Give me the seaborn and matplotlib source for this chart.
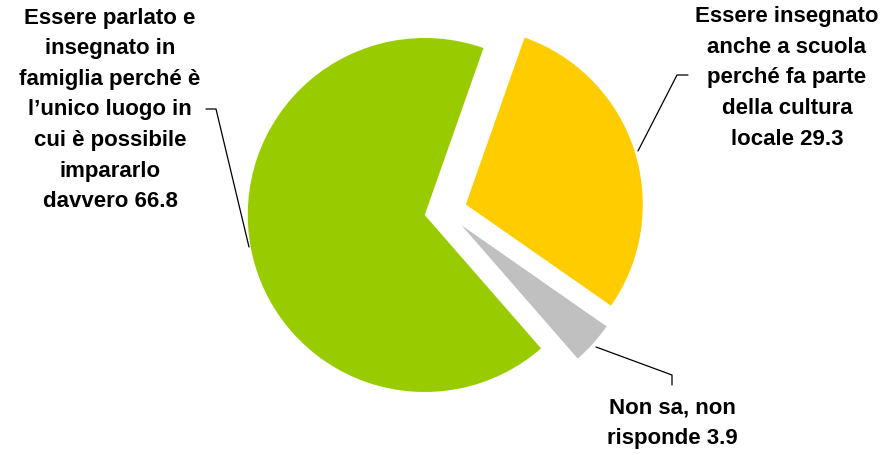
import matplotlib
matplotlib.use("Agg")
import matplotlib.pyplot as plt
import seaborn as sns

sns.set_style("white")
plt.rcParams['font.family'] = ['Liberation Sans', 'DejaVu Sans']

categories = [
    "Essere parlato e\ninsegnato in\nfamiglia perché è\nl’unico luogo in\ncui è possibile\nimpararlo\ndavvero",
    "Essere insegnato\nanche a scuola\nperché fa parte\ndella cultura\nlocale",
    "Non sa, non\nrisponde",
]
values = [66.8, 29.3, 3.9]
colors = ["#99CC00", "#FFCC00", "#C0C0C0"]

W, H = 895, 455
fig = plt.figure(figsize=(W / 100, H / 100), dpi=100)
ax = fig.add_axes([0, 0, 1, 1])

# counter-clockwise order: green, gray, yellow
order = [0, 2, 1]
cx, cy, R = 445.6, H - 211, 177
ax.pie([values[i] for i in order], colors=[colors[i] for i in order],
       startangle=70.6, counterclock=True, explode=[0.12 * R] * 3,
       center=(cx, cy), radius=R, frame=True,
       wedgeprops=dict(linewidth=0))
ax.set_xlim(0, W)
ax.set_ylim(0, H)
ax.set_aspect("equal")
ax.axis("off")

def lab(i):
    return f"{categories[i]} {values[i]:.1f}"

tk = dict(fontsize=16, fontweight="bold", ha="center", va="center",
          linespacing=1.6, color="black")
ax.text(110, H - 110, lab(0), **tk)
ax.text(787, H - 78, lab(1), **tk)
ax.text(672, H - 423, lab(2), **tk)

lk = dict(color="black", lw=0.9)
ax.plot([206, 216, 249], [H - 109, H - 109, H - 247], **lk)
ax.plot([688, 677, 638], [H - 75, H - 75, H - 151], **lk)
ax.plot([596, 672, 672], [H - 347, H - 375, H - 385], **lk)

fig.savefig("out.png", dpi=100)
